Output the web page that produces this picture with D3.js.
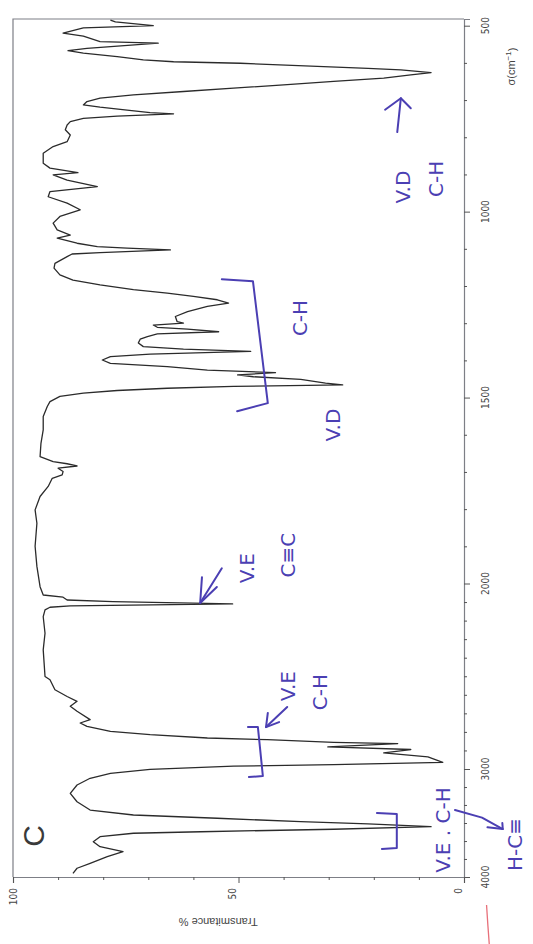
<!DOCTYPE html>
<html>
<head>
<meta charset="utf-8">
<script src="https://cdn.jsdelivr.net/npm/d3@7"></script>
<style>
  body { margin: 0; background: #fff; }
  svg { display: block; }
</style>
</head>
<body>
<div id="spectrum"></div>
<script>
// IR spectrum, from the 500 end down to the 4000 end
const wavenumber = [485, 490, 500, 506, 520, 528, 543, 547, 561, 567, 574, 583, 592, 597, 601, 610, 615, 619, 626, 632,
  641, 650, 659, 668, 677, 686, 695, 704, 713, 719, 727, 734, 737, 743, 749, 758, 767, 780, 794, 812,
  825, 843, 870, 883, 895, 901, 915, 933, 946, 960, 977, 995, 1013, 1031, 1049, 1063, 1071, 1085, 1094, 1098,
  1103, 1110, 1114, 1121, 1139, 1152, 1170, 1184, 1197, 1210, 1219, 1228, 1237, 1246, 1255, 1269, 1282, 1296, 1300, 1305,
  1311, 1316, 1323, 1329, 1336, 1343, 1353, 1363, 1370, 1376, 1383, 1390, 1399, 1408, 1417, 1426, 1433, 1439, 1444, 1451,
  1461, 1466, 1470, 1475, 1481, 1488, 1497, 1511, 1524, 1551, 1587, 1623, 1659, 1672, 1678, 1684, 1690, 1699, 1708, 1717,
  1739, 1766, 1802, 1838, 1900, 1954, 2017, 2062, 2074, 2089, 2098, 2110, 2121, 2128, 2142, 2179, 2268, 2358, 2501, 2519,
  2573, 2609, 2635, 2662, 2689, 2734, 2752, 2770, 2797, 2815, 2833, 2842, 2856, 2863, 2881, 2895, 2913, 2935, 2964, 2976,
  2985, 3003, 3040, 3086, 3148, 3225, 3303, 3380, 3426, 3456, 3488, 3509, 3534, 3558, 3581, 3595, 3627, 3673, 3719, 3766,
  3812, 3873, 3919, 3966];
const transmittance = [78.4, 77.3, 68.9, 84.4, 88.9, 84.4, 80.7, 67.8, 83.6, 87.8, 84.4, 76.9, 71.1, 64.4, 49.6, 31.1, 21.3, 14.0, 7.3, 11.8,
  17.8, 28.9, 40.0, 51.1, 62.2, 73.3, 80.7, 83.6, 84.4, 80.7, 74.7, 69.6, 64.4, 76.9, 84.4, 87.3, 88.0, 88.4, 87.3, 88.0,
  91.1, 93.3, 93.3, 91.8, 85.6, 91.1, 88.0, 81.3, 91.8, 92.2, 88.0, 85.1, 89.6, 91.1, 90.2, 87.3, 90.2, 85.8, 81.3, 74.7,
  65.1, 80.7, 86.9, 88.0, 90.7, 90.9, 89.6, 86.7, 80.7, 73.3, 65.8, 60.0, 54.7, 52.2, 56.9, 61.3, 64.0, 63.6, 62.2, 68.9,
  68.0, 61.3, 54.4, 68.0, 70.2, 71.8, 72.2, 71.1, 62.2, 47.3, 69.6, 78.4, 80.2, 78.4, 65.8, 56.9, 41.8, 50.2, 46.7, 36.2,
  30.7, 26.9, 51.1, 65.8, 76.9, 84.4, 89.6, 91.8, 92.4, 93.3, 93.3, 93.8, 94.0, 91.1, 88.0, 85.8, 90.0, 88.9, 89.1, 91.3,
  92.2, 94.0, 95.1, 94.7, 95.1, 94.7, 94.0, 93.3, 88.9, 88.0, 77.8, 51.3, 87.3, 91.8, 92.9, 93.3, 92.9, 93.3, 92.9, 91.8,
  90.7, 88.0, 85.8, 87.3, 85.8, 82.9, 85.1, 83.6, 78.4, 69.6, 56.9, 43.6, 28.9, 14.7, 30.2, 11.8, 17.8, 8.0, 4.7, 28.9,
  51.1, 69.6, 78.4, 82.9, 85.8, 87.3, 85.8, 82.9, 73.3, 54.7, 36.2, 21.3, 7.3, 28.9, 58.4, 73.3, 80.7, 82.2, 80.7, 75.6,
  79.1, 82.9, 85.8, 86.7];

// axis labels
const wn_labels = [500, 1000, 1500, 2000, 3000, 4000];
const wn_minor = [600, 700, 800, 900, 1100, 1200, 1300, 1400, 1600, 1700, 1800, 1900,
  2100, 2200, 2300, 2400, 2500, 2600, 2700, 2800, 2900, 3167, 3333, 3500, 3667, 3833];
const t_labels = [100, 50, 0];
const t_minor = [90, 80, 70, 60, 40, 30, 20, 10];

// handwritten notes on the scan (positions in wavenumber / % units)
const notes = [
  {text: "V.D", wn: 934, t: 13.5},
  {text: "C-H", wn: 912, t: 6.2},
  {text: "C-H", wn: 1286, t: 36.4},
  {text: "V.D", wn: 1574, t: 29.0},
  {text: "V.E", wn: 1959, t: 48.1},
  {text: "C≡C", wn: 1924, t: 39.0},
  {text: "V.E", wn: 2553, t: 39.0},
  {text: "C-H", wn: 2585, t: 31.9},
  {text: "V.E . C-H", wn: 3565, t: 4.7},
  {text: "H-C≡", wn: 3700, t: -11.3}
];
const pen_strokes = [
  [[786, 14.8], [695, 14.0]],
  [[726, 17.5], [695, 14.0], [722, 11.8]],
  [[1182, 53.7], [1187, 46.8], [1515, 43.5], [1537, 50.3]],
  [[1959, 53.7], [2105, 58.5]],
  [[1983, 58.1], [2105, 58.5], [2019, 54.8]],
  [[2666, 39.2], [2774, 43.9]],
  [[2698, 43.5], [2774, 43.9], [2747, 41.0]],
  [[2774, 47.9], [2774, 45.7], [3065, 44.6], [3074, 47.7]],
  [[3407, 19.3], [3417, 14.9], [3731, 14.9], [3741, 18.2]],
  [[3380, 2.0], [3450, -4.0], [3556, -8.6]],
  [[3500, -8.5], [3556, -8.6], [3540, -5.2]]
];
const red_mark = [[4260, -5.0], [4450, -5.3], [4620, -5.6]];

function plot(){
  const width = 533, height = 944;
  const plotLeft = 13, plotRight = 464;

  const svg = d3.select("#spectrum").append("svg")
      .attr("width", width)
      .attr("height", height);

  svg.append("rect").attr("width", width).attr("height", height).attr("fill", "#fff");

  // the scan is the usual IR chart turned a quarter turn: wavenumber runs down, % runs right-to-left
  const y = d3.scaleLinear()
      .domain([482, 2000, 3000, 4000])
      .range([19, 583.5, 769, 877]);
  const x = d3.scaleLinear()
      .domain([100, 0])
      .range([plotLeft, plotRight]);

  const frameColor = "#7d7f86";

  // frame: left and top edges
  svg.append("path")
      .attr("d", `M${x(100)},${y(4000)}V${y(482)}H${x(0)}`)
      .attr("fill", "none")
      .attr("stroke", frameColor)
      .attr("stroke-width", 1.2);

  // wavenumber axis on the right
  const wnAxis = svg.append("g")
      .attr("transform", `translate(${x(0)},0)`);
  wnAxis.call(d3.axisRight(y).tickValues(wn_labels).tickSize(6).tickFormat(""));
  wnAxis.append("g").call(d3.axisRight(y).tickValues(wn_minor).tickSize(3).tickFormat(""));
  wnAxis.selectAll("path.domain").attr("stroke", frameColor).attr("stroke-width", 1.2);
  wnAxis.selectAll(".tick line").attr("stroke", "#555");
  wnAxis.selectAll(".domain").filter((d, i) => i > 0).remove();

  wnAxis.selectAll("text.wnlab")
    .data(wn_labels)
    .join("text")
      .attr("class", "wnlab")
      .attr("transform", d => `translate(21,${y(d)}) rotate(-90)`)
      .attr("text-anchor", "middle")
      .attr("dominant-baseline", "central")
      .attr("font-family", "'Liberation Sans Narrow', 'DejaVu Sans Condensed', sans-serif")
      .attr("font-size", "10px")
      .attr("fill", "#444")
      .text(d => d);

  wnAxis.append("text")
      .attr("transform", `translate(47,${y(610)}) rotate(-90)`)
      .attr("text-anchor", "middle")
      .attr("dominant-baseline", "central")
      .attr("font-family", "'Liberation Sans', sans-serif")
      .attr("font-size", "11px")
      .attr("fill", "#444")
      .text("σ(cm")
    .append("tspan")
      .attr("dy", "-0.4em")
      .attr("font-size", "8px")
      .text("−1")
    .select(function(){ return this.parentNode; })
    .append("tspan")
      .attr("dy", "0.4em")
      .text(")");

  // transmittance axis along the bottom
  const tAxis = svg.append("g")
      .attr("transform", `translate(0,${y(4000)})`);
  tAxis.call(d3.axisBottom(x).tickValues(t_labels).tickSize(6).tickFormat(""));
  tAxis.append("g").call(d3.axisBottom(x).tickValues(t_minor).tickSize(3).tickFormat(""));
  tAxis.selectAll("path.domain").attr("stroke", frameColor).attr("stroke-width", 1.2);
  tAxis.selectAll(".domain").filter((d, i) => i > 0).remove();
  tAxis.selectAll(".tick line").attr("stroke", "#555");

  tAxis.selectAll("text.tlab")
    .data(t_labels)
    .join("text")
      .attr("class", "tlab")
      .attr("transform", d => `translate(${x(d) - (d === 100 ? 0 : 6)},11) rotate(-90)`)
      .attr("text-anchor", "end")
      .attr("dominant-baseline", "central")
      .attr("font-family", "'Liberation Sans Narrow', 'DejaVu Sans Condensed', sans-serif")
      .attr("font-size", "10px")
      .attr("fill", "#444")
      .text(d => d);

  tAxis.append("text")
      .attr("transform", `translate(${x(54.5)},45) rotate(180)`)
      .attr("text-anchor", "middle")
      .attr("dominant-baseline", "central")
      .attr("font-family", "'Liberation Sans', sans-serif")
      .attr("font-size", "11px")
      .attr("fill", "#444")
      .text("Transmitance %");

  // spectrum trace
  const spectrum = wavenumber.map((w, i) => ({wn: w, t: transmittance[i]}));
  const line = d3.line()
      .x(d => x(d.t))
      .y(d => y(d.wn));

  svg.append("path")
      .datum(spectrum)
      .attr("d", line)
      .attr("fill", "none")
      .attr("stroke", "#2b2b2b")
      .attr("stroke-width", 1.3)
      .attr("stroke-linejoin", "round");

  // printed panel letter
  svg.append("text")
      .attr("transform", `translate(${x(95.5)},${y(3620)}) rotate(-90)`)
      .attr("text-anchor", "middle")
      .attr("dominant-baseline", "central")
      .attr("font-family", "'Liberation Sans', Arial, sans-serif")
      .attr("font-size", "30px")
      .attr("fill", "#3a3a3a")
      .text("C");

  // pen notes
  const ink = "#4b3fb3";
  const pen = d3.line().x(d => x(d[1])).y(d => y(d[0]));
  svg.append("g")
    .selectAll("path")
    .data(pen_strokes)
    .join("path")
      .attr("d", pen)
      .attr("fill", "none")
      .attr("stroke", ink)
      .attr("stroke-width", 2)
      .attr("stroke-linecap", "round")
      .attr("stroke-linejoin", "round");

  svg.append("g")
    .selectAll("text")
    .data(notes)
    .join("text")
      .attr("transform", d => `translate(${x(d.t)},${y(d.wn)}) rotate(-90)`)
      .attr("text-anchor", "middle")
      .attr("dominant-baseline", "central")
      .attr("font-family", "'DejaVu Sans', sans-serif")
      .attr("font-size", "20px")
      .attr("fill", ink)
      .text(d => d.text);

  // stray red pen mark at the bottom of the page
  svg.append("path")
      .datum(red_mark)
      .attr("d", pen)
      .attr("fill", "none")
      .attr("stroke", "#e8707a")
      .attr("stroke-width", 1.3);
}

plot();
</script>
</body>
</html>
